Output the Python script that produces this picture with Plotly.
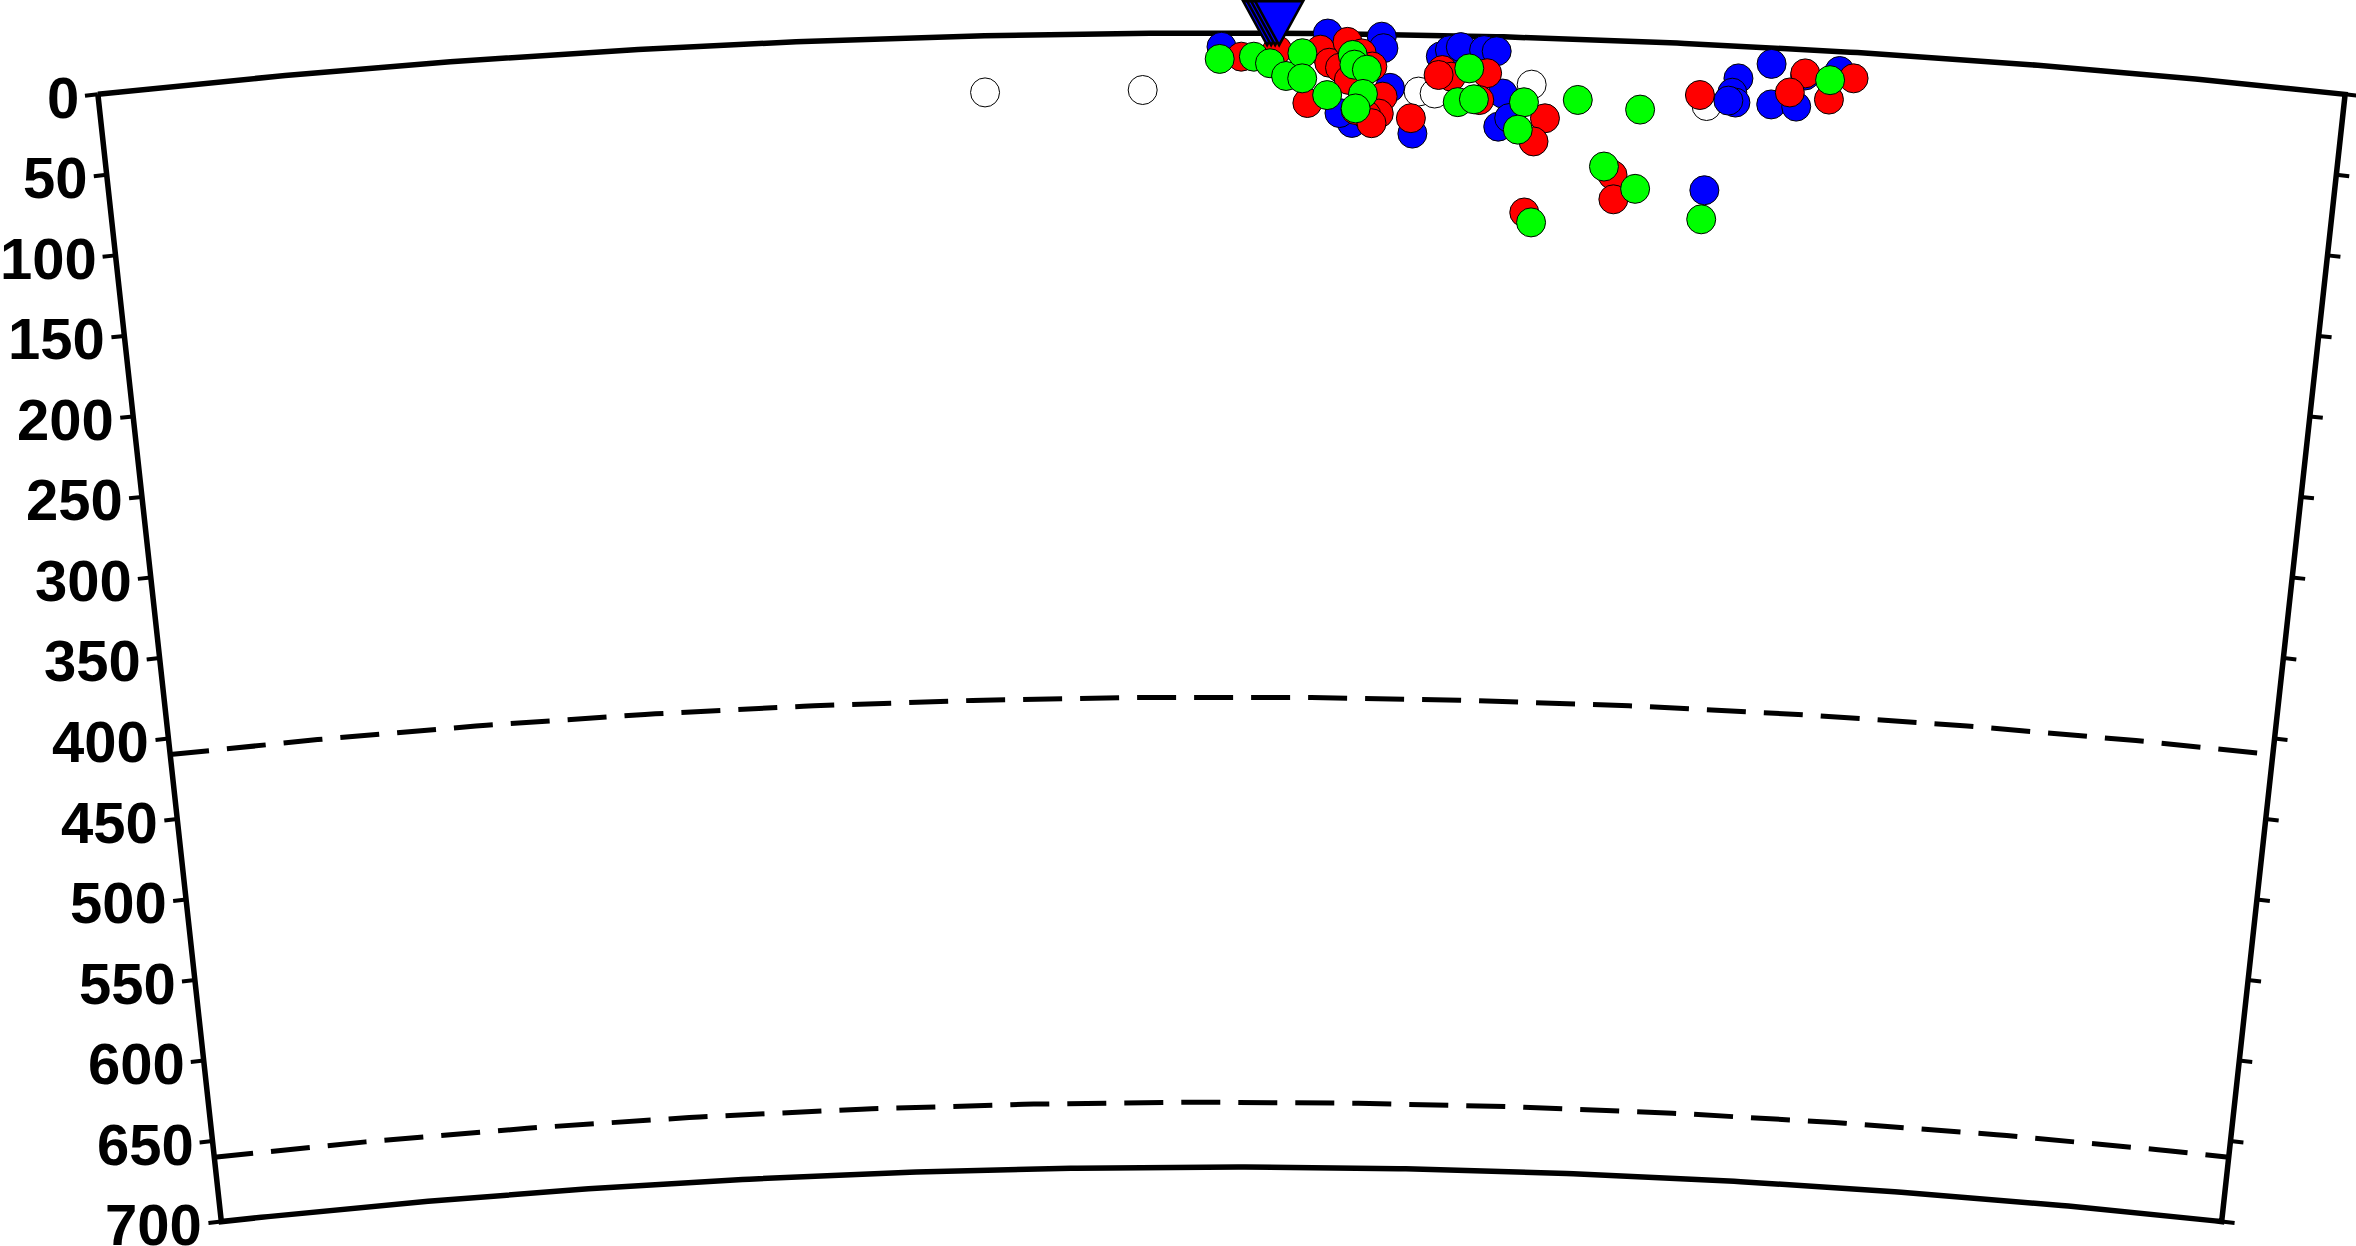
import numpy as np
import plotly.graph_objects as go

# ---------------- data ----------------
R_EARTH = 6371.0
DIST_MIN, DIST_MAX = 0.0, 12.5          # section extent (deg)
DEPTH_MAX = 700.0

depth_ticks = list(range(0, 701, 50))
depth_tick_labels = [str(v) for v in depth_ticks]
discontinuity_depths = [410, 660]

station_dist = [6.57]
station_depth = [0]

white_dist = [4.93, 5.81, 7.35, 7.44, 7.98, 8.96]
white_depth = [35, 35, 35, 36, 29, 38]

blue_dist = [6.25, 6.84, 7.14, 7.15, 6.98, 7.32, 7.19, 6.91, 7.47, 7.52, 7.58, 7.71, 7.78,
             7.82, 7.80, 7.86, 9.31, 9.13, 9.10, 9.12, 9.08, 9.32, 9.46, 9.50, 9.69, 8.97]
blue_depth = [8.5, 0, 1.5, 8.6, 55, 61, 33, 49, 13, 9, 7, 8.5, 9,
              35, 55.5, 50, 10, 20, 29, 35, 34, 35, 35.5, 16, 12, 90]

red_dist = [6.36, 6.56, 6.73, 6.80, 6.85, 6.95, 6.91, 7.03, 7.09, 7.15, 7.13, 7.06, 7.31,
            7.00, 6.96, 7.48, 7.53, 7.46, 7.73, 7.69, 8.06, 8.00, 7.96, 8.45, 8.46, 8.92,
            9.50, 9.42, 9.64, 9.77, 7.09]
red_depth = [14.6, 10.4, 43, 10, 18, 5, 21, 12, 20, 38.5, 49, 50, 51.5,
             47, 28.5, 21.4, 25.4, 24.5, 22.7, 39.4, 49.5, 64, 108, 83, 98, 31.4,
             14.7, 27, 30, 16, 55]

green_dist = [6.24, 6.43, 6.52, 6.61, 6.70, 6.70, 6.84, 6.98, 6.99, 7.06, 7.04, 7.00,
              7.63, 7.57, 7.66, 7.94, 7.91, 8.24, 8.59, 8.40, 8.58, 8.00, 8.96, 9.64]
green_depth = [16, 14.6, 18.6, 26.4, 12.3, 27.8, 38, 13, 19, 22, 37, 46,
               20, 41, 39, 40, 57, 37.5, 42, 78, 91, 114, 108, 18]

# ---------------- geometry ----------------
W, H = 2356, 1246
PX_PER_KM = 1.62
CENTER_PX_X = 1221.5
SURFACE_PX_Y = 33.0
MID = 0.5 * (DIST_MIN + DIST_MAX)


def to_xy(dist, depth):
    a = np.radians(np.asarray(dist, float) - MID)
    r = R_EARTH - np.asarray(depth, float)
    return r * np.sin(a), r * np.cos(a)


cy_px = SURFACE_PX_Y + R_EARTH * PX_PER_KM
x_range = [-CENTER_PX_X / PX_PER_KM, (W - CENTER_PX_X) / PX_PER_KM]
y_range = [(cy_px - H) / PX_PER_KM, cy_px / PX_PER_KM]

fig = go.Figure()

# discontinuities (dashed)
for dd in discontinuity_depths:
    dl = np.linspace(DIST_MIN, DIST_MAX, 200)
    x, y = to_xy(dl, np.full_like(dl, dd))
    fig.add_trace(go.Scatter(x=x, y=y, mode="lines",
                             line=dict(color="black", width=5, dash="39px,18px"),
                             hoverinfo="skip"))

# frame
dl = np.linspace(DIST_MIN, DIST_MAX, 300)
dp = np.linspace(0, DEPTH_MAX, 50)
fx, fy = [], []
for xs, ys in [to_xy(dl, np.zeros_like(dl)),
               to_xy(np.full_like(dp, DIST_MAX), dp),
               to_xy(dl[::-1], np.full_like(dl, DEPTH_MAX)),
               to_xy(np.full_like(dp, DIST_MIN), dp[::-1])]:
    fx += list(xs)
    fy += list(ys)
fig.add_trace(go.Scatter(x=fx, y=fy, mode="lines",
                         line=dict(color="black", width=5.5), hoverinfo="skip"))

# ticks (tangential, outward on both sides)
TICK_PX = 13
tx, ty = [], []
for d in depth_ticks:
    r = R_EARTH - d
    da = np.degrees((TICK_PX / PX_PER_KM) / r)
    for d0, d1 in [(DIST_MIN, DIST_MIN - da), (DIST_MAX, DIST_MAX + da)]:
        xs, ys = to_xy([d0, d1], [d, d])
        tx += list(xs) + [None]
        ty += list(ys) + [None]
fig.add_trace(go.Scatter(x=tx, y=ty, mode="lines",
                         line=dict(color="black", width=4), hoverinfo="skip"))

# events
for dists, depths, col in [(white_dist, white_depth, "white"),
                           (blue_dist, blue_depth, "#0000ff"),
                           (red_dist, red_depth, "#ff0000"),
                           (green_dist, green_depth, "#00ff00")]:
    x, y = to_xy(dists, depths)
    fig.add_trace(go.Scatter(x=x, y=y, mode="markers",
                             marker=dict(size=29, color=col,
                                         line=dict(color="black", width=1)),
                             hoverinfo="skip"))

# station (inverted triangle, stacked outlines)
sx, sy = to_xy(station_dist, station_depth)
for off in [-12, -8, -4, 0]:
    fig.add_shape(type="path", xref="x", yref="y",
                  xsizemode="pixel", ysizemode="pixel",
                  xanchor=float(sx[0]), yanchor=float(sy[0]),
                  path=f"M {off-24},32 L {off+24},32 L {off},-12 Z",
                  fillcolor="#0000ff", line=dict(color="black", width=2.5))

# depth labels on left side
for d, lab in zip(depth_ticks, depth_tick_labels):
    x, y = to_xy([DIST_MIN], [d])
    fig.add_annotation(x=float(x[0]), y=float(y[0]), text=lab, showarrow=False,
                       xanchor="right", yanchor="middle", xshift=-17, yshift=-3,
                       font=dict(family="Liberation Sans, Arial, sans-serif",
                                 size=58, color="black", weight="bold"))

fig.update_layout(
    width=W, height=H, margin=dict(l=0, r=0, t=0, b=0),
    paper_bgcolor="white", plot_bgcolor="white", showlegend=False,
    xaxis=dict(range=x_range, visible=False, fixedrange=True),
    yaxis=dict(range=y_range, visible=False, fixedrange=True),
)

fig.write_html("out.html",
               config={"displayModeBar": False, "staticPlot": True},
               post_script="document.body.style.margin='0';"
                           "document.body.style.overflow='hidden';")
